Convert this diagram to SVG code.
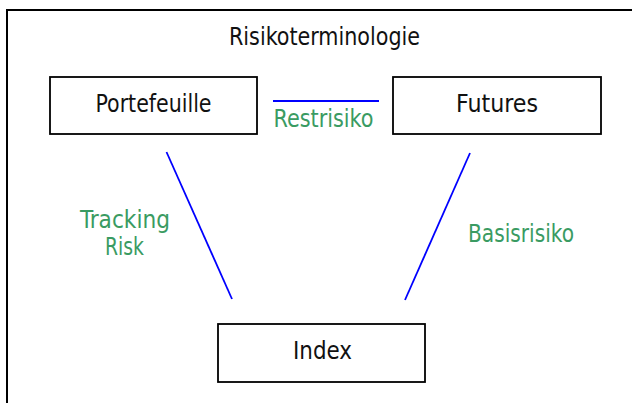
<svg xmlns="http://www.w3.org/2000/svg" width="632" height="403" viewBox="0 0 632 403">
  <style>
    .box { fill: #ffffff; stroke: #000000; stroke-width: 1.8; }
    .lbl { font-family: "DejaVu Sans Condensed", "DejaVu Sans", sans-serif; font-size: 24px; fill: #111111; text-anchor: middle; }
    .edge { font-family: "DejaVu Sans Condensed", "DejaVu Sans", sans-serif; font-size: 24px; fill: #3a9b62; text-anchor: middle; }
    .link { stroke: #0000ff; stroke-width: 1.8; fill: none; }
  </style>
  <rect x="0" y="0" width="632" height="403" fill="#ffffff"/>
  <!-- outer frame -->
  <rect x="7" y="10" width="640" height="410" fill="none" stroke="#000000" stroke-width="2"/>
  <text class="lbl" x="324.5" y="45" textLength="191" lengthAdjust="spacingAndGlyphs">Risikoterminologie</text>

  <g id="connectors">
    <line class="link" x1="273" y1="101" x2="379" y2="101"/>
    <line class="link" x1="166.5" y1="152" x2="232" y2="299"/>
    <line class="link" x1="470" y1="153" x2="405" y2="300"/>
    <text class="edge" x="323.5" y="127" textLength="100" lengthAdjust="spacingAndGlyphs">Restrisiko</text>
    <text class="edge" x="125" y="228" textLength="90" lengthAdjust="spacingAndGlyphs">Tracking</text>
    <text class="edge" x="124.5" y="255" textLength="39" lengthAdjust="spacingAndGlyphs">Risk</text>
    <text class="edge" x="521" y="242" textLength="106" lengthAdjust="spacingAndGlyphs">Basisrisiko</text>
  </g>

  <g id="portefeuille">
    <rect class="box" x="50" y="77" width="207" height="57"/>
    <text class="lbl" x="153.5" y="112" textLength="116" lengthAdjust="spacingAndGlyphs">Portefeuille</text>
  </g>
  <g id="futures">
    <rect class="box" x="393" y="77" width="208" height="57"/>
    <text class="lbl" x="497" y="112" textLength="82" lengthAdjust="spacingAndGlyphs">Futures</text>
  </g>
  <g id="index">
    <rect class="box" x="218" y="324" width="207" height="58"/>
    <text class="lbl" x="322.5" y="359" textLength="59" lengthAdjust="spacingAndGlyphs">Index</text>
  </g>
</svg>
